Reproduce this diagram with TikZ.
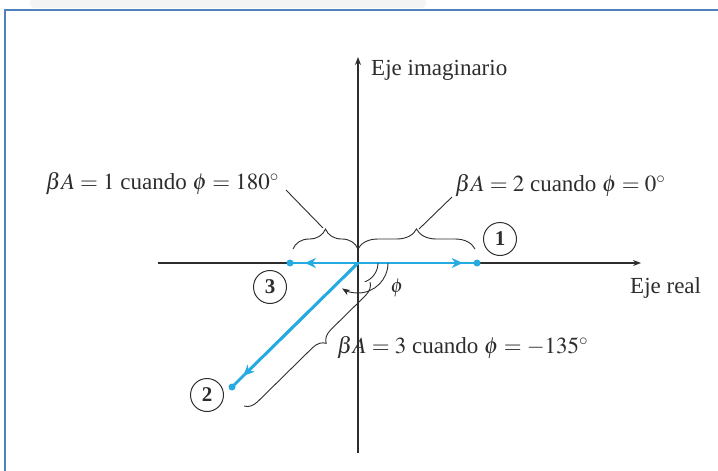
\documentclass[tikz,border=0pt]{standalone}
\usepackage{mathptmx}
\usepackage{fontspec}
\setmainfont{Liberation Serif}
\usetikzlibrary{arrows.meta,decorations.pathreplacing,calc}
\definecolor{frameblue}{RGB}{79,129,189}
\definecolor{vecblue}{RGB}{38,170,226}
\definecolor{ink}{RGB}{45,45,45}
\tikzset{
  axis/.style={draw=ink, line width=1.2pt, -{Stealth[length=8pt,width=6pt]}},
  vecline/.style={draw=vecblue, line width=2.8pt},
  vecarrow/.style={draw=vecblue, line width=2.8pt, -{Stealth[length=11pt,width=10pt]}},
  vdot/.style={circle, fill=vecblue, inner sep=0pt, minimum size=7pt},
  circlab/.style={draw=ink, circle, line width=1pt, inner sep=0pt, minimum size=33pt, font=\fontsize{21}{24}\selectfont\bfseries, text=ink},
  txt/.style={inner sep=0pt, text=ink, font=\fontsize{23}{27}\selectfont},
  bracestyle/.style={draw=ink, line width=0.9pt, decorate, decoration={brace, amplitude=#1}},
  thinline/.style={draw=ink, line width=0.9pt}
}
\begin{document}
\begin{tikzpicture}[x=1pt,y=-1pt]
\useasboundingbox (0,0) rectangle (718,471);
% faint smudge at top
\fill[gray!9, rounded corners=4pt] (30,-4) rectangle (426,8);
% frame
\draw[frameblue, line width=2.5pt] (718,10) -- (5,10) -- (5,471);

% key points
\coordinate (O) at (358,263);
\coordinate (Ybot) at (358,453);
\coordinate (Ytop) at (358,57);
\coordinate (Xleft) at (158,263);
\coordinate (Xright) at (641,263);
\coordinate (P1) at (477,263);
\coordinate (P3) at (290,263);
\coordinate (P2) at (232,387);

% axes
\draw[axis] (Ybot) -- (Ytop);
\draw[axis] (Xleft) -- (Xright);

% vectors
\draw[vecline] (O) -- (P1);
\draw[vecarrow] (O) -- ($(O)!0.88!(P1)$);
\draw[vecline] (O) -- (P3);
\draw[vecarrow] (O) -- ($(O)!0.78!(P3)$);
\draw[vecline] (O) -- (P2);
\draw[vecarrow] (O) -- ($(O)!0.91!(P2)$);
\node[vdot] (d1) at (P1) {};
\node[vdot] (d3) at (P3) {};
\node[vdot] (d2) at (P2) {};

% circled labels
\node[circlab] (c1) at (500,239) {1};
\node[circlab] (c3) at (270,287) {3};
\node[circlab] (c2) at (207,395) {2};

% angle arcs
\draw[thinline] ($(O)+(20,0)$) arc[start angle=0, end angle=70, radius=20];
\draw[thinline, -{Stealth[length=8pt,width=6pt]}] ($(O)+(30,0)$) arc[start angle=0, end angle=122, radius=30];
\node[txt, font=\fontsize{20}{24}\selectfont] (phi) at (397,288) {$\phi$};

% braces
\coordinate (B3a) at (293,249);
\coordinate (B3b) at (358,249);
\coordinate (B1a) at (358,249);
\coordinate (B1b) at (475,249);
\draw[bracestyle=20pt] (B3a) -- (B3b);
\draw[bracestyle=20pt] (B1a) -- (B1b);
\coordinate (B3tip) at (323,228);
\coordinate (B1tip) at (419,229);
\coordinate (L3) at (286,190);
\coordinate (L1) at (452,197);
\draw[thinline] (B3tip) -- (L3);
\draw[thinline] (B1tip) -- (L1);

\coordinate (B2a) at (370,282);
\coordinate (B2b) at (244,406);
\draw[draw=ink, line width=0.9pt, decorate, decoration={brace, amplitude=13pt, aspect=0.42}] (B2a) -- (B2b);

% texts
\node[txt, anchor=west] (timag) at (371,70) {Eje imaginario};
\node[txt, anchor=west] (treal) at (630,288) {Eje real};
\node[txt, anchor=east] (t3) at (279,184) {$\beta A = 1$ cuando $\phi = 180^\circ$};
\node[txt, anchor=west] (t1) at (455,186) {$\beta A = 2$ cuando $\phi = 0^\circ$};
\node[txt, anchor=west] (t2) at (337,348) {$\beta A = 3$ cuando $\phi = -135^\circ$};
\end{tikzpicture}
\end{document}
